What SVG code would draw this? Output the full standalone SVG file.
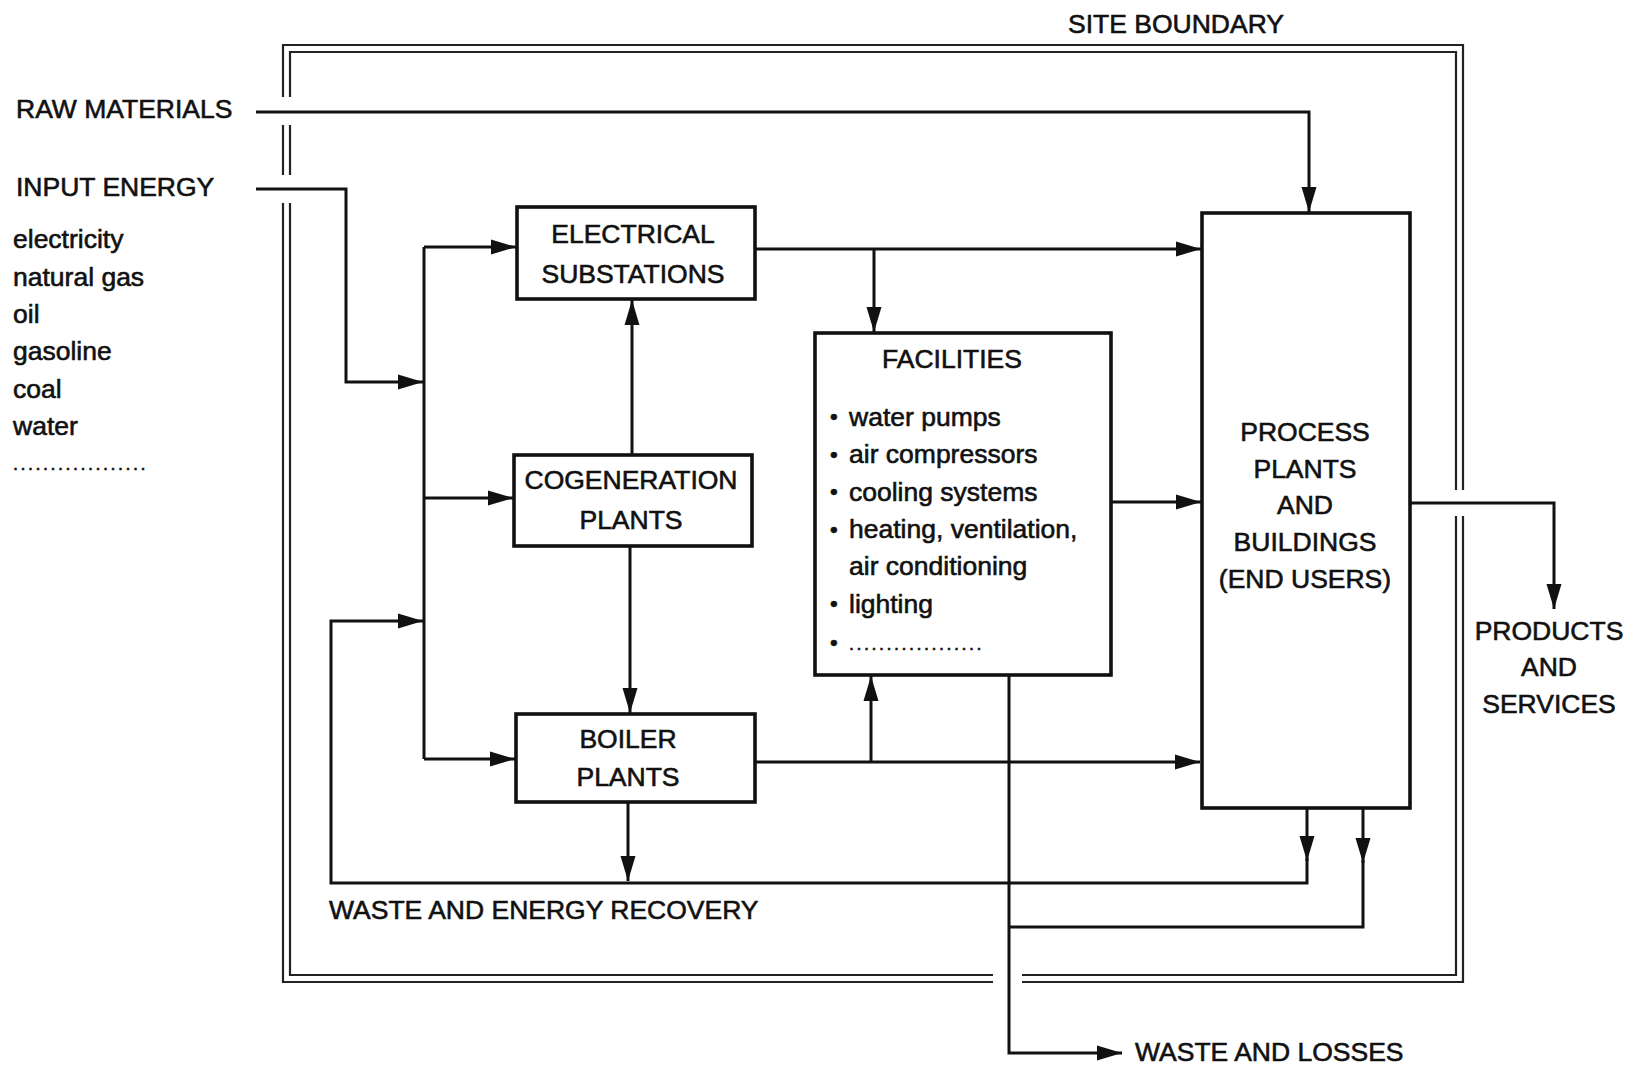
<svg xmlns="http://www.w3.org/2000/svg" width="1628" height="1065" viewBox="0 0 1628 1065">
<style>
  text { font-family: "Liberation Sans", Arial, sans-serif; font-size: 26.5px; fill: #111; stroke: #111; stroke-width: 0.6px; }
  .mid { text-anchor: middle; }
  .box { fill: none; stroke: #111; stroke-width: 3.6; }
  .ln { fill: none; stroke: #111; stroke-width: 3; }
  .bd { fill: none; stroke: #222; stroke-width: 2.2; }
  .bul { font-size: 22px; }
  .dots { font-size: 18px; letter-spacing: 2.5px; }
</style>
<defs>
  <marker id="ah" markerUnits="userSpaceOnUse" markerWidth="28" markerHeight="18" refX="25" refY="8.5" orient="auto">
    <path d="M0,1 L25,8.5 L0,16 z" fill="#111"/>
  </marker>
</defs>
<rect width="1628" height="1065" fill="#fff"/>

<g id="site-boundary">
  <path class="bd" d="M283,97 V45 H1463 V490 M1463,516 V982 H1022 M993,982 H283 V203 M283,175 V125"/>
  <path class="bd" d="M290,97 V52 H1456 V490 M1456,516 V975 H1022 M993,975 H290 V203 M290,175 V125"/>
  <text class="mid" x="1176" y="33">SITE BOUNDARY</text>
</g>

<g id="raw-materials">
  <text x="16" y="118">RAW MATERIALS</text>
</g>

<g id="input-energy">
  <text x="16" y="196">INPUT ENERGY</text>
  <text x="13" y="248">electricity</text>
  <text x="13" y="285.5">natural gas</text>
  <text x="13" y="323">oil</text>
  <text x="13" y="360">gasoline</text>
  <text x="13" y="397.5">coal</text>
  <text x="13" y="435">water</text>
  <text class="dots" x="13" y="470">..................</text>
</g>

<g id="electrical-substations">
  <rect class="box" x="517" y="207" width="238" height="92"/>
  <text class="mid" x="633" y="243">ELECTRICAL</text>
  <text class="mid" x="633" y="282.5">SUBSTATIONS</text>
</g>

<g id="cogeneration-plants">
  <rect class="box" x="514" y="455" width="238" height="91"/>
  <text class="mid" x="631" y="489">COGENERATION</text>
  <text class="mid" x="631" y="528.5">PLANTS</text>
</g>

<g id="boiler-plants">
  <rect class="box" x="516" y="714" width="239" height="88"/>
  <text class="mid" x="628" y="748">BOILER</text>
  <text class="mid" x="628" y="786">PLANTS</text>
</g>

<g id="facilities">
  <rect class="box" x="815" y="333" width="296" height="342"/>
  <text class="mid" x="952" y="368">FACILITIES</text>
  <text class="bul" x="830" y="424">•</text><text x="849" y="425.5">water pumps</text>
  <text class="bul" x="830" y="461.5">•</text><text x="849" y="463">air compressors</text>
  <text class="bul" x="830" y="499">•</text><text x="849" y="500.5">cooling systems</text>
  <text class="bul" x="830" y="536.5">•</text><text x="849" y="538">heating, ventilation,</text>
  <text x="849" y="575">air conditioning</text>
  <text class="bul" x="830" y="611">•</text><text x="849" y="612.5">lighting</text>
  <text class="bul" x="830" y="650">•</text><text class="dots" x="849" y="650">..................</text>
</g>

<g id="process-plants">
  <rect class="box" x="1202" y="213" width="208" height="595"/>
  <text class="mid" x="1305" y="441">PROCESS</text>
  <text class="mid" x="1305" y="477.5">PLANTS</text>
  <text class="mid" x="1305" y="514">AND</text>
  <text class="mid" x="1305" y="550.5">BUILDINGS</text>
  <text class="mid" x="1305" y="588">(END USERS)</text>
</g>

<g id="products-services">
  <text class="mid" x="1549" y="640">PRODUCTS</text>
  <text class="mid" x="1549" y="676">AND</text>
  <text class="mid" x="1549" y="712.5">SERVICES</text>
</g>

<g id="waste-energy-recovery">
  <text x="329" y="919">WASTE AND ENERGY RECOVERY</text>
</g>

<g id="waste-losses">
  <text x="1135" y="1061">WASTE AND LOSSES</text>
</g>

<g id="connectors">
  <path class="ln" d="M256,112 H1309 V212" marker-end="url(#ah)"/>
  <path class="ln" d="M256,189 H346 V382 H423" marker-end="url(#ah)"/>
  <path class="ln" d="M424,247 V759"/>
  <path class="ln" d="M424,247 H516" marker-end="url(#ah)"/>
  <path class="ln" d="M424,498 H513" marker-end="url(#ah)"/>
  <path class="ln" d="M424,759 H515" marker-end="url(#ah)"/>
  <path class="ln" d="M632,455 V300" marker-end="url(#ah)"/>
  <path class="ln" d="M630,546 V713" marker-end="url(#ah)"/>
  <path class="ln" d="M628,802 V881" marker-end="url(#ah)"/>
  <path class="ln" d="M755,249 H1201" marker-end="url(#ah)"/>
  <path class="ln" d="M874,249 V332" marker-end="url(#ah)"/>
  <path class="ln" d="M1111,502 H1201" marker-end="url(#ah)"/>
  <path class="ln" d="M755,762 H1200" marker-end="url(#ah)"/>
  <path class="ln" d="M871,762 V676" marker-end="url(#ah)"/>
  <path class="ln" d="M1410,503 H1554 V609" marker-end="url(#ah)"/>
  <path class="ln" d="M1307,808 V861" marker-end="url(#ah)"/>
  <path class="ln" d="M1307,858 V883 H331 V621 H423" marker-end="url(#ah)"/>
  <path class="ln" d="M1363,808 V863" marker-end="url(#ah)"/>
  <path class="ln" d="M1363,860 V927 H1009"/>
  <path class="ln" d="M1009,675 V1053 H1122" marker-end="url(#ah)"/>
</g>
</svg>
